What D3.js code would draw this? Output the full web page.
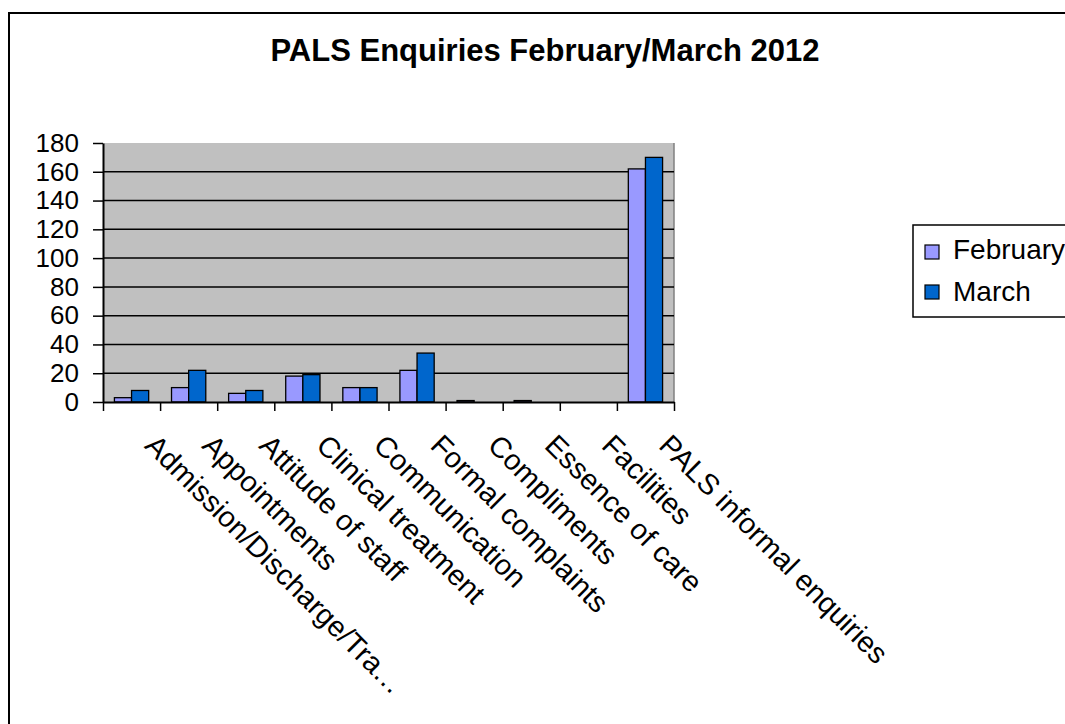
<!DOCTYPE html>
<html>
<head>
<meta charset="utf-8">
<script src="https://cdn.jsdelivr.net/npm/d3@7.9.0/dist/d3.min.js"></script>
<style>
  body { margin: 0; background: #fff; }
  svg { display: block; font-family: "Liberation Sans", Arial, sans-serif; }
</style>
</head>
<body>
<svg id="chart" width="1065" height="724"></svg>
<script>
// data
const categories = ['Admission/Discharge/Tra\u2026', 'Appointments', 'Attitude of staff',
  'Clinical treatment', 'Communication', 'Formal complaints', 'Compliments',
  'Essence of care', 'Facilities', 'PALS informal enquiries'];
const february = [3, 10, 6, 18, 10, 22, 1, 1, 0, 162];
const march = [8, 22, 8, 19, 10, 34, 0, 0, 0, 170];
const seriesNames = ['February', 'March'];
const seriesColors = ['#9999FF', '#0066CC'];
const yTicks = [0, 20, 40, 60, 80, 100, 120, 140, 160, 180];

const svg = d3.select('#chart');

// outer chart frame (runs off the right and bottom edge)
svg.append('rect')
  .attr('x', 9).attr('y', 13).attr('width', 1100).attr('height', 800)
  .attr('fill', 'none').attr('stroke', '#000').attr('stroke-width', 2);

svg.append('text')
  .attr('x', 545).attr('y', 61)
  .attr('text-anchor', 'middle')
  .attr('font-size', 31).attr('font-weight', 'bold')
  .text('PALS Enquiries February/March 2012');

const plot = { left: 103, right: 674, top: 143, bottom: 402 };

const y = d3.scaleLinear().domain([0, 180]).range([plot.bottom, plot.top]);
const x0 = d3.scaleBand().domain(categories)
  .range([plot.left, plot.right]).paddingInner(0.4).paddingOuter(0.2);
const x1 = d3.scaleBand().domain(seriesNames).range([0, x0.bandwidth()]);

// plot background
svg.append('rect')
  .attr('x', plot.left).attr('y', plot.top)
  .attr('width', plot.right - plot.left).attr('height', plot.bottom - plot.top)
  .attr('fill', '#C0C0C0');
svg.append('line')
  .attr('x1', plot.right).attr('x2', plot.right)
  .attr('y1', plot.top).attr('y2', plot.bottom)
  .attr('stroke', '#808080').attr('stroke-width', 1.5);

// gridlines
svg.append('g').selectAll('line')
  .data(yTicks.filter(d => d > 0 && d < 180))
  .join('line')
  .attr('x1', plot.left).attr('x2', plot.right)
  .attr('y1', d => y(d)).attr('y2', d => y(d))
  .attr('stroke', '#000').attr('stroke-width', 1.5);

// bars
const rows = categories.map((c, i) => ({ cat: c, values: [february[i], march[i]] }));
const groups = svg.append('g').selectAll('g')
  .data(rows)
  .join('g')
  .attr('transform', d => `translate(${x0(d.cat)},0)`);

groups.selectAll('rect')
  .data(d => d.values.map((v, k) => ({ key: seriesNames[k], value: v, k })))
  .join('rect')
  .filter(d => d.value > 0)
  .attr('x', d => x1(d.key))
  .attr('y', d => y(d.value))
  .attr('width', x1.bandwidth())
  .attr('height', d => y(0) - y(d.value))
  .attr('fill', d => seriesColors[d.k])
  .attr('stroke', '#000').attr('stroke-width', 1.3);

// y axis
const yAxis = svg.append('g')
  .attr('transform', `translate(${plot.left},0)`)
  .call(d3.axisLeft(y).tickValues(yTicks).tickSize(10).tickPadding(14).tickSizeOuter(0));
yAxis.select('.domain').attr('stroke', '#000').attr('stroke-width', 2);
yAxis.selectAll('.tick line').attr('stroke', '#000').attr('stroke-width', 1.5);
yAxis.selectAll('.tick text')
  .attr('font-size', 26).attr('fill', '#000')
  .attr('font-family', '"Liberation Sans", Arial, sans-serif');

// x axis: ticks on category boundaries
const xb = d3.scaleLinear().domain([0, categories.length]).range([plot.left, plot.right]);
const xAxis = svg.append('g')
  .attr('transform', `translate(0,${plot.bottom})`)
  .call(d3.axisBottom(xb).ticks(categories.length).tickSize(9).tickSizeOuter(0).tickFormat(''));
xAxis.select('.domain').attr('stroke', '#000').attr('stroke-width', 2);
xAxis.selectAll('.tick line').attr('stroke', '#000').attr('stroke-width', 1.5);

// rotated category labels
svg.append('g').selectAll('text')
  .data(categories)
  .join('text')
  .attr('transform', d => `translate(${x0(d) + x0.bandwidth() / 2 + 12},447) rotate(45)`)
  .attr('font-size', 29)
  .attr('fill', '#000')
  .text(d => d);

// legend
const legend = svg.append('g');
legend.append('rect')
  .attr('x', 913).attr('y', 225).attr('width', 200).attr('height', 92)
  .attr('fill', '#fff').attr('stroke', '#000').attr('stroke-width', 1.5);
seriesNames.forEach((name, i) => {
  legend.append('rect')
    .attr('x', 925).attr('y', 245 + i * 40).attr('width', 14).attr('height', 14)
    .attr('fill', seriesColors[i]).attr('stroke', '#000').attr('stroke-width', 1.2);
  legend.append('text')
    .attr('x', 953).attr('y', 259 + i * 42)
    .attr('font-size', 28).attr('fill', '#000')
    .text(name);
});
</script>
</body>
</html>
